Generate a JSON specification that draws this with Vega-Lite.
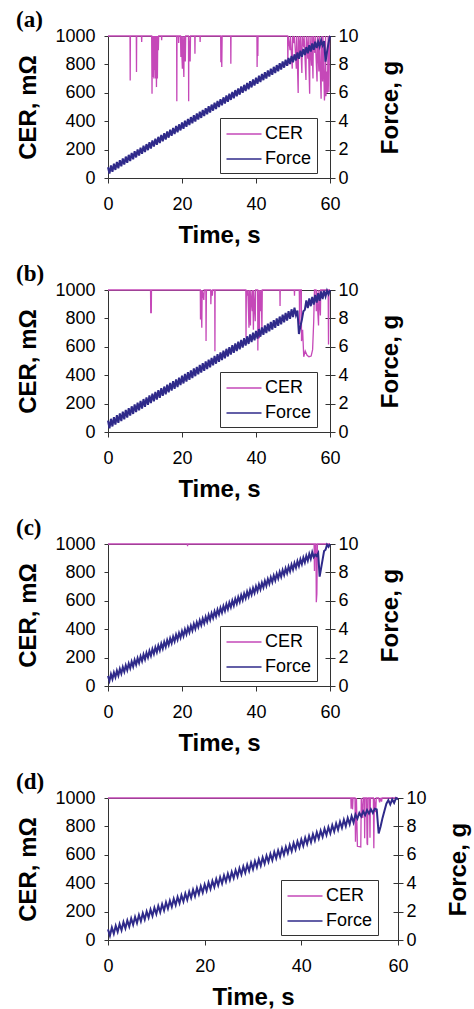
{
"$schema":"https://vega.github.io/schema/vega-lite/v6.json",
"background":"white",
"padding":{"left":15,"top":8,"right":2,"bottom":2},
"config":{
 "font":"Liberation Sans",
 "view":{"stroke":"#333","strokeWidth":1},
 "axis":{"grid":false,"domain":false,"labelFlush":false,"labelFont":"Liberation Sans","labelFontSize":18,"labelColor":"#000","titleFont":"Liberation Sans","titleFontSize":24,"titleFontWeight":"bold","titleColor":"#000","tickColor":"#333","format":"d"},
 "axisX":{"tickSize":5,"labelPadding":12,"titlePadding":10},
 "axisLeft":{"tickSize":4,"labelPadding":9,"titlePadding":14},
 "legend":{"title":null,"orient":"none","legendY":82,"strokeColor":"#333","fillColor":"white","padding":5,"labelFont":"Liberation Sans","labelFontSize":18,"labelColor":"#000","symbolType":"M-1.75,0L1.75,0","symbolSize":400,"symbolStrokeWidth":1.5,"symbolOffset":8,"rowPadding":5,"labelOffset":10},
 "title":{"font":"Liberation Serif","fontSize":23,"fontWeight":"bold","anchor":"start","frame":"group","dx":-92,"offset":-5,"color":"#000"}
},
"datasets":{
"force":[
{"t":0,"a":0.75,"b":0.8,"c":0.7,"d":0.75},
{"t":0.4,"a":0.31,"b":0.26,"c":0.36,"d":0.31},
{"t":0.8,"a":0.88,"b":0.93,"c":0.83,"d":0.88},
{"t":1.2,"a":0.44,"b":0.39,"c":0.49,"d":0.44},
{"t":1.6,"a":1.0,"b":1.05,"c":0.95,"d":1.0},
{"t":2.0,"a":0.57,"b":0.52,"c":0.62,"d":0.57},
{"t":2.4,"a":1.13,"b":1.18,"c":1.08,"d":1.13},
{"t":2.8,"a":0.69,"b":0.64,"c":0.74,"d":0.69},
{"t":3.2,"a":1.26,"b":1.31,"c":1.21,"d":1.26},
{"t":3.6,"a":0.82,"b":0.77,"c":0.87,"d":0.82},
{"t":4.0,"a":1.38,"b":1.43,"c":1.33,"d":1.38},
{"t":4.4,"a":0.95,"b":0.9,"c":1.0,"d":0.95},
{"t":4.8,"a":1.51,"b":1.56,"c":1.46,"d":1.51},
{"t":5.2,"a":1.07,"b":1.02,"c":1.12,"d":1.07},
{"t":5.6,"a":1.63,"b":1.68,"c":1.58,"d":1.63},
{"t":6.0,"a":1.2,"b":1.15,"c":1.25,"d":1.2},
{"t":6.4,"a":1.76,"b":1.81,"c":1.71,"d":1.76},
{"t":6.8,"a":1.32,"b":1.27,"c":1.37,"d":1.32},
{"t":7.2,"a":1.89,"b":1.94,"c":1.84,"d":1.89},
{"t":7.6,"a":1.45,"b":1.4,"c":1.5,"d":1.45},
{"t":8.0,"a":2.01,"b":2.06,"c":1.96,"d":2.01},
{"t":8.4,"a":1.58,"b":1.53,"c":1.63,"d":1.58},
{"t":8.8,"a":2.14,"b":2.19,"c":2.09,"d":2.14},
{"t":9.2,"a":1.7,"b":1.65,"c":1.75,"d":1.7},
{"t":9.6,"a":2.27,"b":2.32,"c":2.22,"d":2.27},
{"t":10.0,"a":1.83,"b":1.78,"c":1.88,"d":1.83},
{"t":10.4,"a":2.39,"b":2.44,"c":2.34,"d":2.39},
{"t":10.8,"a":1.96,"b":1.91,"c":2.01,"d":1.96},
{"t":11.2,"a":2.52,"b":2.57,"c":2.47,"d":2.52},
{"t":11.6,"a":2.08,"b":2.03,"c":2.13,"d":2.08},
{"t":12.0,"a":2.65,"b":2.7,"c":2.6,"d":2.65},
{"t":12.4,"a":2.21,"b":2.16,"c":2.26,"d":2.21},
{"t":12.8,"a":2.77,"b":2.82,"c":2.72,"d":2.77},
{"t":13.2,"a":2.34,"b":2.29,"c":2.39,"d":2.34},
{"t":13.6,"a":2.9,"b":2.95,"c":2.85,"d":2.9},
{"t":14.0,"a":2.46,"b":2.41,"c":2.51,"d":2.46},
{"t":14.4,"a":3.03,"b":3.08,"c":2.98,"d":3.03},
{"t":14.8,"a":2.59,"b":2.54,"c":2.64,"d":2.59},
{"t":15.2,"a":3.15,"b":3.2,"c":3.1,"d":3.15},
{"t":15.6,"a":2.71,"b":2.66,"c":2.76,"d":2.71},
{"t":16.0,"a":3.28,"b":3.33,"c":3.23,"d":3.28},
{"t":16.4,"a":2.84,"b":2.79,"c":2.89,"d":2.84},
{"t":16.8,"a":3.4,"b":3.45,"c":3.35,"d":3.4},
{"t":17.2,"a":2.97,"b":2.92,"c":3.02,"d":2.97},
{"t":17.6,"a":3.53,"b":3.58,"c":3.48,"d":3.53},
{"t":18.0,"a":3.09,"b":3.04,"c":3.14,"d":3.09},
{"t":18.4,"a":3.66,"b":3.71,"c":3.61,"d":3.66},
{"t":18.8,"a":3.22,"b":3.17,"c":3.27,"d":3.22},
{"t":19.2,"a":3.78,"b":3.83,"c":3.73,"d":3.78},
{"t":19.6,"a":3.35,"b":3.3,"c":3.4,"d":3.35},
{"t":20.0,"a":3.91,"b":3.96,"c":3.86,"d":3.91},
{"t":20.4,"a":3.47,"b":3.42,"c":3.52,"d":3.47},
{"t":20.8,"a":4.04,"b":4.09,"c":3.99,"d":4.04},
{"t":21.2,"a":3.6,"b":3.55,"c":3.65,"d":3.6},
{"t":21.6,"a":4.16,"b":4.21,"c":4.11,"d":4.16},
{"t":22.0,"a":3.73,"b":3.68,"c":3.78,"d":3.73},
{"t":22.4,"a":4.29,"b":4.34,"c":4.24,"d":4.29},
{"t":22.8,"a":3.85,"b":3.8,"c":3.9,"d":3.85},
{"t":23.2,"a":4.42,"b":4.47,"c":4.37,"d":4.42},
{"t":23.6,"a":3.98,"b":3.93,"c":4.03,"d":3.98},
{"t":24.0,"a":4.54,"b":4.59,"c":4.49,"d":4.54},
{"t":24.4,"a":4.11,"b":4.06,"c":4.16,"d":4.11},
{"t":24.8,"a":4.67,"b":4.72,"c":4.62,"d":4.67},
{"t":25.2,"a":4.23,"b":4.18,"c":4.28,"d":4.23},
{"t":25.6,"a":4.79,"b":4.84,"c":4.74,"d":4.79},
{"t":26.0,"a":4.36,"b":4.31,"c":4.41,"d":4.36},
{"t":26.4,"a":4.92,"b":4.97,"c":4.87,"d":4.92},
{"t":26.8,"a":4.48,"b":4.43,"c":4.53,"d":4.48},
{"t":27.2,"a":5.05,"b":5.1,"c":5.0,"d":5.05},
{"t":27.6,"a":4.61,"b":4.56,"c":4.66,"d":4.61},
{"t":28.0,"a":5.17,"b":5.22,"c":5.12,"d":5.17},
{"t":28.4,"a":4.74,"b":4.69,"c":4.79,"d":4.74},
{"t":28.8,"a":5.3,"b":5.35,"c":5.25,"d":5.3},
{"t":29.2,"a":4.86,"b":4.81,"c":4.91,"d":4.86},
{"t":29.6,"a":5.43,"b":5.48,"c":5.38,"d":5.43},
{"t":30.0,"a":4.99,"b":4.94,"c":5.04,"d":4.99},
{"t":30.4,"a":5.55,"b":5.6,"c":5.5,"d":5.55},
{"t":30.8,"a":5.12,"b":5.07,"c":5.17,"d":5.12},
{"t":31.2,"a":5.68,"b":5.73,"c":5.63,"d":5.68},
{"t":31.6,"a":5.24,"b":5.19,"c":5.29,"d":5.24},
{"t":32.0,"a":5.81,"b":5.86,"c":5.76,"d":5.81},
{"t":32.4,"a":5.37,"b":5.32,"c":5.42,"d":5.37},
{"t":32.8,"a":5.93,"b":5.98,"c":5.88,"d":5.93},
{"t":33.2,"a":5.5,"b":5.45,"c":5.55,"d":5.5},
{"t":33.6,"a":6.06,"b":6.11,"c":6.01,"d":6.06},
{"t":34.0,"a":5.62,"b":5.57,"c":5.67,"d":5.62},
{"t":34.4,"a":6.19,"b":6.24,"c":6.14,"d":6.19},
{"t":34.8,"a":5.75,"b":5.7,"c":5.8,"d":5.75},
{"t":35.2,"a":6.31,"b":6.36,"c":6.26,"d":6.31},
{"t":35.6,"a":5.87,"b":5.82,"c":5.92,"d":5.87},
{"t":36.0,"a":6.44,"b":6.49,"c":6.39,"d":6.44},
{"t":36.4,"a":6.0,"b":5.95,"c":6.05,"d":6.0},
{"t":36.8,"a":6.56,"b":6.61,"c":6.51,"d":6.56},
{"t":37.2,"a":6.13,"b":6.08,"c":6.18,"d":6.13},
{"t":37.6,"a":6.69,"b":6.74,"c":6.64,"d":6.69},
{"t":38.0,"a":6.25,"b":6.2,"c":6.3,"d":6.25},
{"t":38.4,"a":6.82,"b":6.87,"c":6.77,"d":6.82},
{"t":38.8,"a":6.38,"b":6.33,"c":6.43,"d":6.38},
{"t":39.2,"a":6.94,"b":6.99,"c":6.89,"d":6.94},
{"t":39.6,"a":6.51,"b":6.46,"c":6.56,"d":6.51},
{"t":40.0,"a":7.07,"b":7.12,"c":7.02,"d":7.07},
{"t":40.4,"a":6.63,"b":6.58,"c":6.68,"d":6.63},
{"t":40.8,"a":7.2,"b":7.25,"c":7.15,"d":7.2},
{"t":41.2,"a":6.76,"b":6.71,"c":6.81,"d":6.76},
{"t":41.6,"a":7.32,"b":7.37,"c":7.27,"d":7.32},
{"t":42.0,"a":6.89,"b":6.84,"c":6.94,"d":6.89},
{"t":42.4,"a":7.45,"b":7.5,"c":7.4,"d":7.45},
{"t":42.8,"a":7.01,"b":6.96,"c":7.06,"d":7.01},
{"t":43.2,"a":7.58,"b":7.63,"c":7.53,"d":7.58},
{"t":43.6,"a":7.14,"b":7.09,"c":7.19,"d":7.14},
{"t":44.0,"a":7.7,"b":7.75,"c":7.65,"d":7.7},
{"t":44.4,"a":7.27,"b":7.22,"c":7.32,"d":7.27},
{"t":44.8,"a":7.83,"b":7.88,"c":7.78,"d":7.83},
{"t":45.2,"a":7.39,"b":7.34,"c":7.44,"d":7.39},
{"t":45.6,"a":7.95,"b":8.0,"c":7.9,"d":7.95},
{"t":46.0,"a":7.52,"b":7.47,"c":7.57,"d":7.52},
{"t":46.4,"a":8.08,"b":8.13,"c":8.03,"d":8.08},
{"t":46.8,"a":7.64,"b":7.59,"c":7.69,"d":7.64},
{"t":47.2,"a":8.21,"b":8.26,"c":8.16,"d":8.21},
{"t":47.6,"a":7.77,"b":7.72,"c":7.82,"d":7.77},
{"t":48.0,"a":8.33,"b":8.38,"c":8.28,"d":8.33},
{"t":48.4,"a":7.9,"b":7.85,"c":7.95,"d":7.9},
{"t":48.8,"a":8.46,"b":8.51,"c":8.41,"d":8.46},
{"t":49.2,"a":8.02,"b":7.97,"c":8.07,"d":8.02},
{"t":49.6,"a":8.59,"b":8.64,"c":8.54,"d":8.59},
{"t":50.0,"a":8.15,"b":8.1,"c":8.2,"d":8.15},
{"t":50.4,"a":8.71,"b":8.76,"c":8.66,"d":8.71},
{"t":50.8,"a":8.28,"b":8.23,"c":8.33,"d":8.28},
{"t":51.2,"a":8.84,"b":8.55,"c":8.79,"d":8.84},
{"t":51.6,"a":8.4,"b":6.9,"c":8.45,"d":8.55},
{"t":52.0,"a":8.97,"b":7.45,"c":8.92,"d":8.95},
{"t":52.4,"a":8.53,"b":7.9,"c":8.58,"d":8.7},
{"t":52.8,"a":9.09,"b":8.5,"c":9.04,"d":9.05},
{"t":53.2,"a":8.66,"b":8.6,"c":8.71,"d":8.8},
{"t":53.6,"a":9.22,"b":9.27,"c":9.17,"d":9.15},
{"t":54.0,"a":8.78,"b":8.73,"c":8.83,"d":8.9},
{"t":54.4,"a":9.35,"b":9.4,"c":9.3,"d":9.2},
{"t":54.8,"a":8.91,"b":8.86,"c":8.96,"d":8.95},
{"t":55.2,"a":9.47,"b":9.52,"c":9.42,"d":9.25},
{"t":55.6,"a":9.03,"b":8.98,"c":9.08,"d":9.2},
{"t":56.0,"a":9.6,"b":9.65,"c":9.25,"d":7.5},
{"t":56.4,"a":9.16,"b":9.11,"c":9.15,"d":8.0},
{"t":56.8,"a":9.6,"b":9.77,"c":9.35,"d":8.6},
{"t":57.2,"a":9.25,"b":9.24,"c":7.7,"d":9.1},
{"t":57.6,"a":9.7,"b":9.9,"c":8.3,"d":9.6},
{"t":58.0,"a":9.35,"b":9.36,"c":8.9,"d":9.85},
{"t":58.4,"a":9.65,"b":9.95,"c":9.5,"d":9.55},
{"t":58.8,"a":8.2,"b":9.55,"c":9.6,"d":9.9},
{"t":59.2,"a":8.9,"b":9.95,"c":9.95,"d":9.65},
{"t":59.6,"a":9.5,"b":9.7,"c":9.8,"d":10.0},
{"t":60.0,"a":10.0,"b":10.0,"c":10.0,"d":9.9}
],
"cer":[
{"p":"a","t":0,"v":1000},{"p":"a","t":5.95,"v":1000},{"p":"a","t":6.0,"v":687},{"p":"a","t":6.05,"v":1000},{"p":"a","t":7.65,"v":1000},{"p":"a","t":7.7,"v":746},{"p":"a","t":7.75,"v":1000},{"p":"a","t":9.05,"v":1000},{"p":"a","t":9.1,"v":958},{"p":"a","t":9.15,"v":1000},
{"p":"a","t":11.8,"v":1000},{"p":"a","t":11.9,"v":593},{"p":"a","t":12.0,"v":1000},{"p":"a","t":12.15,"v":711},{"p":"a","t":12.25,"v":1000},{"p":"a","t":12.4,"v":700},{"p":"a","t":12.5,"v":1000},{"p":"a","t":12.6,"v":760},{"p":"a","t":12.7,"v":1000},{"p":"a","t":12.85,"v":700},{"p":"a","t":12.95,"v":1000},{"p":"a","t":13.1,"v":640},{"p":"a","t":13.2,"v":1000},{"p":"a","t":13.35,"v":700},{"p":"a","t":13.45,"v":1000},{"p":"a","t":13.6,"v":900},{"p":"a","t":13.7,"v":1000},
{"p":"a","t":14.45,"v":1000},{"p":"a","t":14.5,"v":970},{"p":"a","t":14.55,"v":1000},
{"p":"a","t":18.55,"v":1000},{"p":"a","t":18.6,"v":541},{"p":"a","t":18.65,"v":1000},{"p":"a","t":19.05,"v":1000},{"p":"a","t":19.1,"v":950},{"p":"a","t":19.15,"v":1000},{"p":"a","t":19.6,"v":1000},{"p":"a","t":19.7,"v":852},{"p":"a","t":19.8,"v":1000},{"p":"a","t":20.1,"v":770},{"p":"a","t":20.2,"v":1000},{"p":"a","t":20.5,"v":711},{"p":"a","t":20.6,"v":1000},{"p":"a","t":20.9,"v":820},{"p":"a","t":21.0,"v":1000},{"p":"a","t":21.75,"v":1000},{"p":"a","t":21.8,"v":541},{"p":"a","t":21.85,"v":1000},{"p":"a","t":22.2,"v":820},{"p":"a","t":22.3,"v":1000},
{"p":"a","t":23.45,"v":1000},{"p":"a","t":23.5,"v":875},{"p":"a","t":23.55,"v":1000},{"p":"a","t":24.85,"v":1000},{"p":"a","t":24.9,"v":958},{"p":"a","t":24.95,"v":1000},
{"p":"a","t":30.45,"v":1000},{"p":"a","t":30.5,"v":816},{"p":"a","t":30.6,"v":1000},{"p":"a","t":30.75,"v":781},{"p":"a","t":30.85,"v":1000},
{"p":"a","t":33.15,"v":1000},{"p":"a","t":33.2,"v":805},{"p":"a","t":33.25,"v":1000},
{"p":"a","t":40.25,"v":1000},{"p":"a","t":40.3,"v":781},{"p":"a","t":40.4,"v":1000},{"p":"a","t":40.5,"v":860},{"p":"a","t":40.55,"v":1000},
{"p":"a","t":48.55,"v":1000},{"p":"a","t":48.6,"v":793},{"p":"a","t":48.7,"v":1000},{"p":"a","t":49.2,"v":900},{"p":"a","t":49.3,"v":1000},{"p":"a","t":49.8,"v":770},{"p":"a","t":49.9,"v":1000},{"p":"a","t":50.3,"v":950},{"p":"a","t":50.4,"v":1000},{"p":"a","t":50.9,"v":770},{"p":"a","t":51.0,"v":1000},{"p":"a","t":51.4,"v":598},{"p":"a","t":51.5,"v":1000},{"p":"a","t":51.9,"v":880},{"p":"a","t":52.0,"v":1000},{"p":"a","t":52.4,"v":740},{"p":"a","t":52.5,"v":1000},{"p":"a","t":52.9,"v":920},{"p":"a","t":53.0,"v":1000},{"p":"a","t":53.5,"v":690},{"p":"a","t":53.6,"v":1000},{"p":"a","t":54.0,"v":840},{"p":"a","t":54.1,"v":1000},{"p":"a","t":54.5,"v":593},{"p":"a","t":54.6,"v":1000},{"p":"a","t":55.0,"v":790},{"p":"a","t":55.1,"v":1000},{"p":"a","t":55.4,"v":700},{"p":"a","t":55.5,"v":1000},{"p":"a","t":55.9,"v":880},{"p":"a","t":56.0,"v":1000},{"p":"a","t":56.5,"v":680},{"p":"a","t":56.6,"v":1000},{"p":"a","t":57.0,"v":750},{"p":"a","t":57.1,"v":1000},{"p":"a","t":57.6,"v":558},{"p":"a","t":57.7,"v":1000},{"p":"a","t":58.0,"v":680},{"p":"a","t":58.1,"v":1000},{"p":"a","t":58.5,"v":546},{"p":"a","t":58.6,"v":605},{"p":"a","t":58.8,"v":1000},{"p":"a","t":58.9,"v":575},{"p":"a","t":59.1,"v":750},{"p":"a","t":59.3,"v":600},{"p":"a","t":59.5,"v":1000},{"p":"a","t":59.7,"v":605},{"p":"a","t":59.9,"v":1000},{"p":"a","t":60,"v":1000},
{"p":"b","t":0,"v":1000},{"p":"b","t":11.5,"v":1000},{"p":"b","t":11.55,"v":840},{"p":"b","t":11.7,"v":840},{"p":"b","t":11.75,"v":1000},
{"p":"b","t":24.95,"v":1000},{"p":"b","t":25.0,"v":793},{"p":"b","t":25.1,"v":1000},{"p":"b","t":25.35,"v":734},{"p":"b","t":25.45,"v":1000},{"p":"b","t":25.9,"v":930},{"p":"b","t":26.0,"v":1000},{"p":"b","t":26.45,"v":1000},{"p":"b","t":26.5,"v":640},{"p":"b","t":26.6,"v":1000},{"p":"b","t":27.75,"v":1000},{"p":"b","t":27.8,"v":900},{"p":"b","t":27.9,"v":1000},{"p":"b","t":28.2,"v":960},{"p":"b","t":28.3,"v":1000},{"p":"b","t":28.85,"v":1000},{"p":"b","t":28.9,"v":569},{"p":"b","t":28.95,"v":1000},
{"p":"b","t":37.25,"v":1000},{"p":"b","t":37.3,"v":663},{"p":"b","t":37.4,"v":1000},{"p":"b","t":37.7,"v":960},{"p":"b","t":37.8,"v":1000},{"p":"b","t":38.1,"v":734},{"p":"b","t":38.2,"v":1000},{"p":"b","t":38.5,"v":750},{"p":"b","t":38.6,"v":1000},{"p":"b","t":39.0,"v":850},{"p":"b","t":39.1,"v":1000},{"p":"b","t":39.3,"v":720},{"p":"b","t":39.4,"v":1000},{"p":"b","t":39.8,"v":780},{"p":"b","t":39.9,"v":1000},{"p":"b","t":40.45,"v":1000},{"p":"b","t":40.5,"v":574},{"p":"b","t":40.6,"v":1000},{"p":"b","t":40.9,"v":660},{"p":"b","t":41.0,"v":1000},{"p":"b","t":41.3,"v":850},{"p":"b","t":41.4,"v":1000},{"p":"b","t":41.6,"v":720},{"p":"b","t":41.7,"v":1000},
{"p":"b","t":46.45,"v":1000},{"p":"b","t":46.5,"v":887},{"p":"b","t":46.55,"v":1000},
{"p":"b","t":50.35,"v":1000},{"p":"b","t":50.4,"v":960},{"p":"b","t":50.45,"v":1000},{"p":"b","t":51.7,"v":1000},{"p":"b","t":51.8,"v":757},{"p":"b","t":51.9,"v":1000},{"p":"b","t":52.25,"v":1000},{"p":"b","t":52.3,"v":640},{"p":"b","t":52.6,"v":720},{"p":"b","t":52.9,"v":530},{"p":"b","t":53.3,"v":570},{"p":"b","t":53.8,"v":540},{"p":"b","t":54.3,"v":530},{"p":"b","t":54.9,"v":535},{"p":"b","t":55.3,"v":580},{"p":"b","t":55.6,"v":780},{"p":"b","t":55.8,"v":1000},
{"p":"b","t":56.2,"v":1000},{"p":"b","t":56.3,"v":850},{"p":"b","t":56.4,"v":1000},{"p":"b","t":56.9,"v":750},{"p":"b","t":57.0,"v":1000},{"p":"b","t":57.4,"v":820},{"p":"b","t":57.5,"v":1000},{"p":"b","t":58.2,"v":1000},{"p":"b","t":58.3,"v":960},{"p":"b","t":58.4,"v":1000},{"p":"b","t":59.5,"v":1000},{"p":"b","t":59.6,"v":616},{"p":"b","t":59.7,"v":1000},{"p":"b","t":60,"v":1000},
{"p":"c","t":0,"v":1000},{"p":"c","t":21.45,"v":1000},{"p":"c","t":21.5,"v":985},{"p":"c","t":21.55,"v":1000},{"p":"c","t":55.7,"v":1000},{"p":"c","t":55.8,"v":810},{"p":"c","t":55.9,"v":1000},{"p":"c","t":56.2,"v":1000},{"p":"c","t":56.3,"v":590},{"p":"c","t":56.45,"v":650},{"p":"c","t":56.6,"v":1000},{"p":"c","t":60,"v":1000},
{"p":"d","t":0,"v":1000},{"p":"d","t":50.25,"v":1000},{"p":"d","t":50.3,"v":925},{"p":"d","t":50.35,"v":1000},{"p":"d","t":50.55,"v":1000},{"p":"d","t":50.6,"v":920},{"p":"d","t":50.7,"v":1000},{"p":"d","t":51.1,"v":1000},{"p":"d","t":51.2,"v":692},{"p":"d","t":51.4,"v":1000},{"p":"d","t":51.6,"v":660},{"p":"d","t":52.3,"v":655},{"p":"d","t":52.4,"v":1000},{"p":"d","t":52.7,"v":860},{"p":"d","t":52.8,"v":1000},{"p":"d","t":53.05,"v":1000},{"p":"d","t":53.1,"v":716},{"p":"d","t":53.2,"v":1000},{"p":"d","t":53.5,"v":1000},{"p":"d","t":53.6,"v":680},{"p":"d","t":53.7,"v":669},{"p":"d","t":53.8,"v":1000},{"p":"d","t":54.1,"v":1000},{"p":"d","t":54.2,"v":720},{"p":"d","t":54.3,"v":1000},{"p":"d","t":54.9,"v":1000},{"p":"d","t":55.0,"v":646},{"p":"d","t":55.1,"v":1000},{"p":"d","t":55.4,"v":900},{"p":"d","t":55.5,"v":1000},{"p":"d","t":56.0,"v":1000},{"p":"d","t":56.2,"v":970},{"p":"d","t":56.4,"v":1000},{"p":"d","t":56.6,"v":975},{"p":"d","t":56.7,"v":1000},{"p":"d","t":60,"v":1000}
]
},
"vconcat":[
{"width":222,"height":142,"title":{"text":"(a)"},
 "layer":[
  {"data":{"name":"cer"},"transform":[{"filter":"datum.p==='a'"}],"mark":{"type":"line","strokeWidth":1.3},
   "encoding":{"x":{"field":"t","type":"quantitative","scale":{"domain":[0,60]},"axis":{"values":[0,20,40,60],"title":"Time, s"}},
    "y":{"field":"v","type":"quantitative","scale":{"domain":[0,1000]},"axis":{"values":[0,200,400,600,800,1000],"title":"CER, mΩ"}},
    "color":{"datum":"CER","scale":{"domain":["CER","Force"],"range":["#c548b8","#2f2a8a"]},"legend":{"legendX":112}}}},
  {"data":{"name":"force"},"mark":{"type":"line","strokeWidth":2},
   "encoding":{"x":{"field":"t","type":"quantitative"},
    "y":{"field":"a","type":"quantitative","scale":{"domain":[0,10]},"axis":{"orient":"right","values":[0,2,4,6,8,10],"title":"Force, g","titleAngle":270,"titleBaseline":"top","offset":-5,"tickSize":10,"labelPadding":3,"titlePadding":20}},
    "color":{"datum":"Force"}}}
 ],
 "resolve":{"scale":{"y":"independent"}}},
{"width":222,"height":142,"title":{"text":"(b)"},
 "layer":[
  {"data":{"name":"cer"},"transform":[{"filter":"datum.p==='b'"}],"mark":{"type":"line","strokeWidth":1.3},
   "encoding":{"x":{"field":"t","type":"quantitative","scale":{"domain":[0,60]},"axis":{"values":[0,20,40,60],"title":"Time, s"}},
    "y":{"field":"v","type":"quantitative","scale":{"domain":[0,1000]},"axis":{"values":[0,200,400,600,800,1000],"title":"CER, mΩ"}},
    "color":{"datum":"CER","scale":{"domain":["CER","Force"],"range":["#c548b8","#2f2a8a"]},"legend":{"legendX":112}}}},
  {"data":{"name":"force"},"mark":{"type":"line","strokeWidth":2},
   "encoding":{"x":{"field":"t","type":"quantitative"},
    "y":{"field":"b","type":"quantitative","scale":{"domain":[0,10]},"axis":{"orient":"right","values":[0,2,4,6,8,10],"title":"Force, g","titleAngle":270,"titleBaseline":"top","offset":-5,"tickSize":10,"labelPadding":3,"titlePadding":20}},
    "color":{"datum":"Force"}}}
 ],
 "resolve":{"scale":{"y":"independent"}}},
{"width":222,"height":142,"title":{"text":"(c)"},
 "layer":[
  {"data":{"name":"cer"},"transform":[{"filter":"datum.p==='c'"}],"mark":{"type":"line","strokeWidth":1.3},
   "encoding":{"x":{"field":"t","type":"quantitative","scale":{"domain":[0,60]},"axis":{"values":[0,20,40,60],"title":"Time, s"}},
    "y":{"field":"v","type":"quantitative","scale":{"domain":[0,1000]},"axis":{"values":[0,200,400,600,800,1000],"title":"CER, mΩ"}},
    "color":{"datum":"CER","scale":{"domain":["CER","Force"],"range":["#c548b8","#2f2a8a"]},"legend":{"legendX":112}}}},
  {"data":{"name":"force"},"mark":{"type":"line","strokeWidth":2},
   "encoding":{"x":{"field":"t","type":"quantitative"},
    "y":{"field":"c","type":"quantitative","scale":{"domain":[0,10]},"axis":{"orient":"right","values":[0,2,4,6,8,10],"title":"Force, g","titleAngle":270,"titleBaseline":"top","offset":-5,"tickSize":10,"labelPadding":3,"titlePadding":20}},
    "color":{"datum":"Force"}}}
 ],
 "resolve":{"scale":{"y":"independent"}}},
{"width":290,"height":142,"title":{"text":"(d)"},
 "layer":[
  {"data":{"name":"cer"},"transform":[{"filter":"datum.p==='d'"}],"mark":{"type":"line","strokeWidth":1.3},
   "encoding":{"x":{"field":"t","type":"quantitative","scale":{"domain":[0,60]},"axis":{"values":[0,20,40,60],"title":"Time, s"}},
    "y":{"field":"v","type":"quantitative","scale":{"domain":[0,1000]},"axis":{"values":[0,200,400,600,800,1000],"title":"CER, mΩ"}},
    "color":{"datum":"CER","scale":{"domain":["CER","Force"],"range":["#c548b8","#2f2a8a"]},"legend":{"legendX":173}}}},
  {"data":{"name":"force"},"mark":{"type":"line","strokeWidth":2},
   "encoding":{"x":{"field":"t","type":"quantitative"},
    "y":{"field":"d","type":"quantitative","scale":{"domain":[0,10]},"axis":{"orient":"right","values":[0,2,4,6,8,10],"title":"Force, g","titleAngle":270,"titleBaseline":"top","offset":-5,"tickSize":10,"labelPadding":3,"titlePadding":20}},
    "color":{"datum":"Force"}}}
 ],
 "resolve":{"scale":{"y":"independent"}}}
],
"spacing":112,
"bounds":"flush",
"resolve":{"scale":{"color":"independent"},"legend":{"color":"independent"}}
}
